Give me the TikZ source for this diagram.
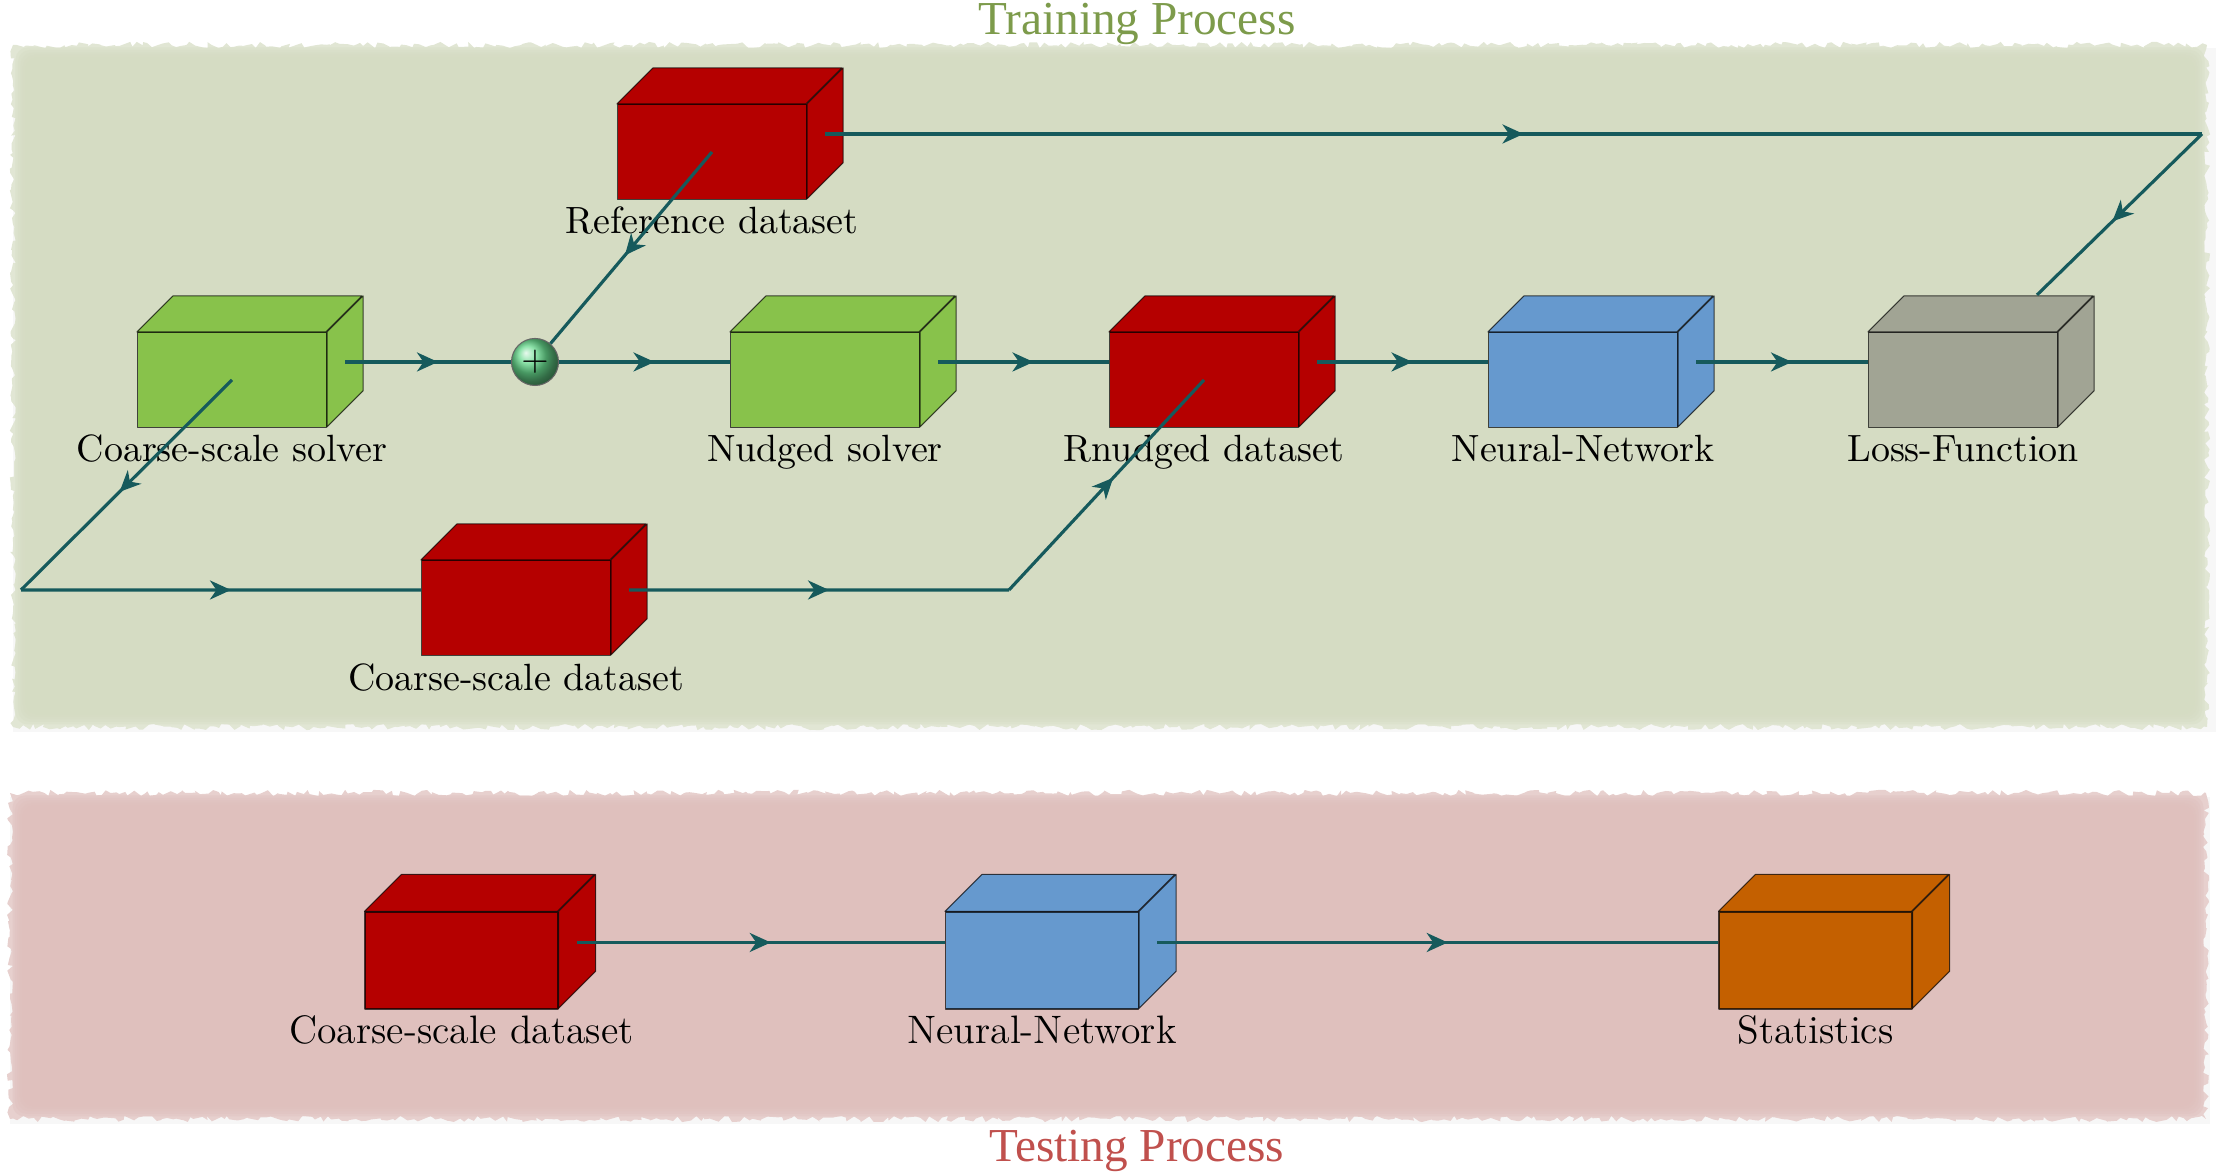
\documentclass[tikz,border=0pt]{standalone}
\usepackage{amsmath}
\usepackage{fontspec}
\usepackage{tikz}
\usetikzlibrary{positioning, arrows.meta, calc, decorations.markings, decorations.pathmorphing}
\newfontfamily\titlefont{Liberation Serif}
\definecolor{linkteal}{RGB}{22,90,92}
\definecolor{dataRed}{RGB}{181,0,0}
\definecolor{solverGreen}{RGB}{136,194,75}
\definecolor{netBlue}{RGB}{102,153,206}
\definecolor{lossGrey}{RGB}{161,164,148}
\definecolor{statOrange}{RGB}{196,96,0}
\definecolor{trainPanel}{RGB}{213,220,195}
\definecolor{testPanel}{RGB}{223,192,189}
\definecolor{trainTitle}{RGB}{125,155,75}
\definecolor{testTitle}{RGB}{192,80,77}
\newcommand{\BoxDepth}{0.36}
\tikzset{
    cuboid edge/.style={draw=black, draw opacity=0.7, line width=0.3pt, line join=round},
    cuboid label/.style={anchor=base, yshift=-0.34cm, font=\fontsize{10.8}{13}\selectfont},
    pics/cuboid/.style n args={4}{code={
        \node[cuboid edge, fill=#1, inner sep=0, minimum width=#3cm, minimum height=#4cm] (-front) {};
        \draw[cuboid edge, fill=#1] (-front.north west) -- ++(\BoxDepth,\BoxDepth) -- ++(#3,0) -- ++(-\BoxDepth,-\BoxDepth) -- cycle;
        \draw[cuboid edge, fill=#1] (-front.north east) -- ++(\BoxDepth,\BoxDepth) -- ++(0,-#4) -- ++(-\BoxDepth,-\BoxDepth) -- cycle;
        \coordinate (-out) at ($(-front.east)+(0.18,0.18)$);
        \coordinate (-in) at ($(-front.west)+(0,0.18)$);
        \coordinate (-up) at ($(-front.north)+(0.74,0.37)$);
        \node[cuboid label] (-label) at (-front.south) {#2};
    }},
    link/.style={
        draw=linkteal, line width=0.9pt,
        postaction={decorate},
        decoration={markings, mark=at position 0.5 with {\arrow[linkteal, xshift=0.1cm]{Stealth[length=0.21cm, width=0.19cm, inset=0.065cm]}}},
    },
    torn/.style={decorate, decoration={random steps, segment length=1.3pt, amplitude=0.9pt}},
    panel title/.style={font=\titlefont\fontsize{13.45}{15}\selectfont, anchor=base},
}

\begin{document}
\begin{tikzpicture}
    \useasboundingbox (0,0) rectangle (22.16,11.76);
    \pgfmathsetseed{4}

    % panels
    \fill[black, opacity=0.03] (0.13,4.44) rectangle (22.2,11.28);
    \fill[torn, trainPanel!72!white] (0.13,4.49) rectangle (22.07,11.31);
    \fill[black, opacity=0.03] (0.10,0.52) rectangle (22.1,3.79);
    \fill[torn, testPanel!75!white] (0.10,0.57) rectangle (22.06,3.83);
    \foreach \i in {1,...,6} {
        \fill[trainPanel, opacity=0.4, rounded corners=0.12cm] (0.13+0.025*\i,4.49+0.025*\i) rectangle (22.07-0.025*\i,11.31-0.025*\i);
        \fill[testPanel, opacity=0.4, rounded corners=0.12cm] (0.10+0.025*\i,0.57+0.025*\i) rectangle (22.06-0.025*\i,3.83-0.025*\i);
    }

    \node[panel title, text=trainTitle] (traintitle) at (11.37,11.41) {Training Process};
    \node[panel title, text=testTitle] (testtitle) at (11.37,0.14) {Testing Process};

    % training row
    \pic (solver) at (2.32,7.96) {cuboid={solverGreen}{Coarse-scale solver}{1.89}{0.95}};
    \pic (refdata) at (7.12,10.24) {cuboid={dataRed}{Reference dataset}{1.89}{0.95}};
    \pic (nudged) at (8.25,7.96) {cuboid={solverGreen}{Nudged solver}{1.89}{0.95}};
    \pic (rnudged) at (12.04,7.96) {cuboid={dataRed}{Rnudged dataset}{1.89}{0.95}};
    \pic (net) at (15.83,7.96) {cuboid={netBlue}{Neural-Network}{1.89}{0.95}};
    \pic (loss) at (19.63,7.96) {cuboid={lossGrey}{Loss-Function}{1.89}{0.95}};
    \pic (coarse) at (5.16,5.68) {cuboid={dataRed}{Coarse-scale dataset}{1.89}{0.95}};

    \node[circle, draw=black!60, line width=0.3pt, ball color=green!50!teal!60!white, minimum size=0.47cm, inner sep=0] (plus) at (5.35,8.14) {$+$};

    \coordinate (leftturn) at (0.21,5.86);
    \coordinate (midturn) at (10.09,5.86);
    \coordinate (rightturn) at (22.02,10.42);

    \draw (solver-out) edge[link] (plus);
    \draw (plus) edge[link] (nudged-in);
    \draw (nudged-out) edge[link] (rnudged-in);
    \draw (rnudged-out) edge[link] (net-in);
    \draw (net-out) edge[link] (loss-in);
    \draw (refdata-front.center) edge[link] (plus);
    \draw (refdata-out) edge[link] (rightturn);
    \draw (rightturn) edge[link] (loss-up);
    \draw (solver-front.center) edge[link] (leftturn);
    \draw (leftturn) edge[link] (coarse-in);
    \draw (coarse-out) edge[link] (midturn);
    \draw (midturn) edge[link] (rnudged-front.center);

    % testing row
    \renewcommand{\BoxDepth}{0.37}
    \tikzset{cuboid label/.append style={font=\fontsize{11.3}{13}\selectfont}}
    \pic (testdata) at (4.615,2.155) {cuboid={dataRed}{Coarse-scale dataset}{1.93}{0.97}};
    \pic (testnet) at (10.42,2.155) {cuboid={netBlue}{Neural-Network}{1.93}{0.97}};
    \pic (stats) at (18.155,2.155) {cuboid={statOrange}{Statistics}{1.93}{0.97}};

    \draw (testdata-out) edge[link] (testnet-in);
    \draw (testnet-out) edge[link] (stats-in);
\end{tikzpicture}
\end{document}
